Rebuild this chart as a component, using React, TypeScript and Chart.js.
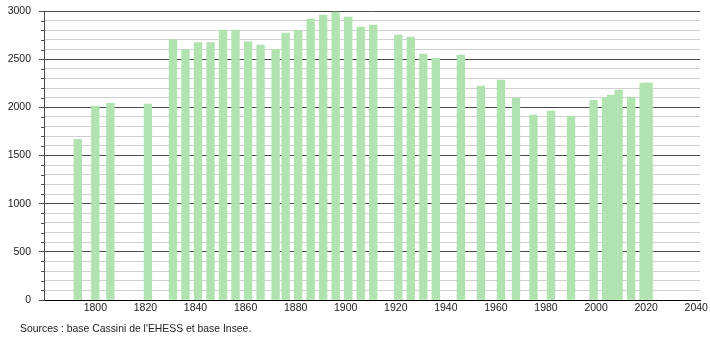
import React, { useEffect, useRef } from "react";
import { Chart, registerables } from "chart.js";

Chart.register(...registerables);

const years = [
  1793, 1800, 1806, 1821, 1831, 1836, 1841, 1846, 1851, 1856, 1861, 1866, 1872,
  1876, 1881, 1886, 1891, 1896, 1901, 1906, 1911, 1921, 1926, 1931, 1936, 1946,
  1954, 1962, 1968, 1975, 1982, 1990, 1999, 2004, 2006, 2009, 2014, 2019, 2021,
];
const population = [
  1668, 2014, 2042, 2035, 2702, 2602, 2671, 2671, 2803, 2803, 2681, 2647, 2602,
  2771, 2796, 2917, 2958, 2990, 2938, 2834, 2855, 2751, 2730, 2554, 2509, 2543,
  2221, 2284, 2093, 1920, 1962, 1910, 2073, 2104, 2128, 2180, 2107, 2253, 2253,
];
const xTickLabels = [1800, 1820, 1840, 1860, 1880, 1900, 1920, 1940, 1960, 1980, 2000, 2020, 2040];
const yMajorTicks = [0, 500, 1000, 1500, 2000, 2500, 3000];
const yMinorStep = 100;
const sourceText = "Sources : base Cassini de l'EHESS et base Insee.";

const FONT = "'Liberation Sans', Arial, sans-serif";
const BAR = "rgb(176, 227, 176)";
const MAJOR = "#4a4a4a";
const MINOR = "#cfcfcf";

const minorTicksPlugin = {
  id: "minorTicks",
  afterDraw(chart: any) {
    const ys = chart.scales.y;
    const ctx = chart.ctx;
    const left = chart.chartArea.left;
    ctx.save();
    ctx.strokeStyle = MAJOR;
    ctx.lineWidth = 1;
    for (let v = 0; v <= 3000; v += yMinorStep) {
      if (yMajorTicks.includes(v)) continue;
      const py = Math.round(ys.getPixelForValue(v)) + 0.5;
      ctx.beginPath();
      ctx.moveTo(left - 3, py);
      ctx.lineTo(left, py);
      ctx.stroke();
    }
    ctx.restore();
  },
};

const zeroPadding = (s: any) => {
  s.paddingTop = 0;
  s.paddingBottom = 0;
  s.paddingLeft = 0;
  s.paddingRight = 0;
};

export default function App() {
  const ref = useRef<HTMLCanvasElement | null>(null);
  useEffect(() => {
    document.body.style.margin = "0";
    const chart = new Chart(ref.current!, {
      type: "bar",
      data: {
        datasets: [
          {
            data: years.map((y, i) => ({ x: y, y: population[i] })),
            backgroundColor: BAR,
            borderWidth: 0,
            barThickness: 7.7,
          },
        ],
      },
      options: {
        animation: false,
        responsive: false,
        devicePixelRatio: 1,
        layout: { padding: { top: 11, right: 10, left: 0, bottom: 0 } },
        plugins: { legend: { display: false }, tooltip: { enabled: false }, title: { display: false } },
        scales: {
          x: {
            type: "linear",
            min: 1779.5,
            max: 2041.5,
            offset: false,
            grid: { display: false, offset: false, drawTicks: false },
            border: { display: true, color: "#000", width: 1 },
            afterBuildTicks: (s: any) => {
              s.ticks = xTickLabels.map((v) => ({ value: v }));
            },
            afterFit: (s: any) => {
              s.height = 40;
              zeroPadding(s);
            },
            ticks: {
              autoSkip: false,
              maxRotation: 0,
              padding: 2,
              color: "#222",
              font: { family: FONT, size: 10.5 },
              callback: (v: any) => String(v),
            },
          },
          y: {
            type: "linear",
            min: 0,
            max: 3000,
            afterBuildTicks: (s: any) => {
              const t = [];
              for (let v = 0; v <= 3000; v += yMinorStep) t.push({ value: v });
              s.ticks = t;
            },
            afterFit: (s: any) => {
              s.width = 44;
              zeroPadding(s);
            },
            grid: {
              color: (c: any) => (c.tick && c.tick.value % 500 === 0 ? MAJOR : MINOR),
              tickColor: (c: any) => (c.tick && c.tick.value % 500 === 0 ? MAJOR : "rgba(0,0,0,0)"),
              tickLength: 5,
              lineWidth: 1,
            },
            border: { display: true, color: MAJOR, width: 1 },
            ticks: {
              autoSkip: false,
              padding: 8,
              color: "#222",
              font: { family: FONT, size: 10.5 },
              callback: (v: any) => (Number(v) % 500 === 0 ? String(v) : ""),
            },
          },
        },
      },
      plugins: [minorTicksPlugin],
    });
    return () => chart.destroy();
  }, []);
  return (
    <div style={{ position: "fixed", left: 0, top: 0, width: 710, height: 340, background: "#fff" }}>
      <canvas ref={ref} width={710} height={340} style={{ display: "block" }} />
      <div
        style={{
          position: "absolute",
          left: 20,
          top: 323,
          fontFamily: FONT,
          fontSize: 10.4,
          color: "#222",
          whiteSpace: "nowrap",
        }}
      >
        {sourceText}
      </div>
    </div>
  );
}
